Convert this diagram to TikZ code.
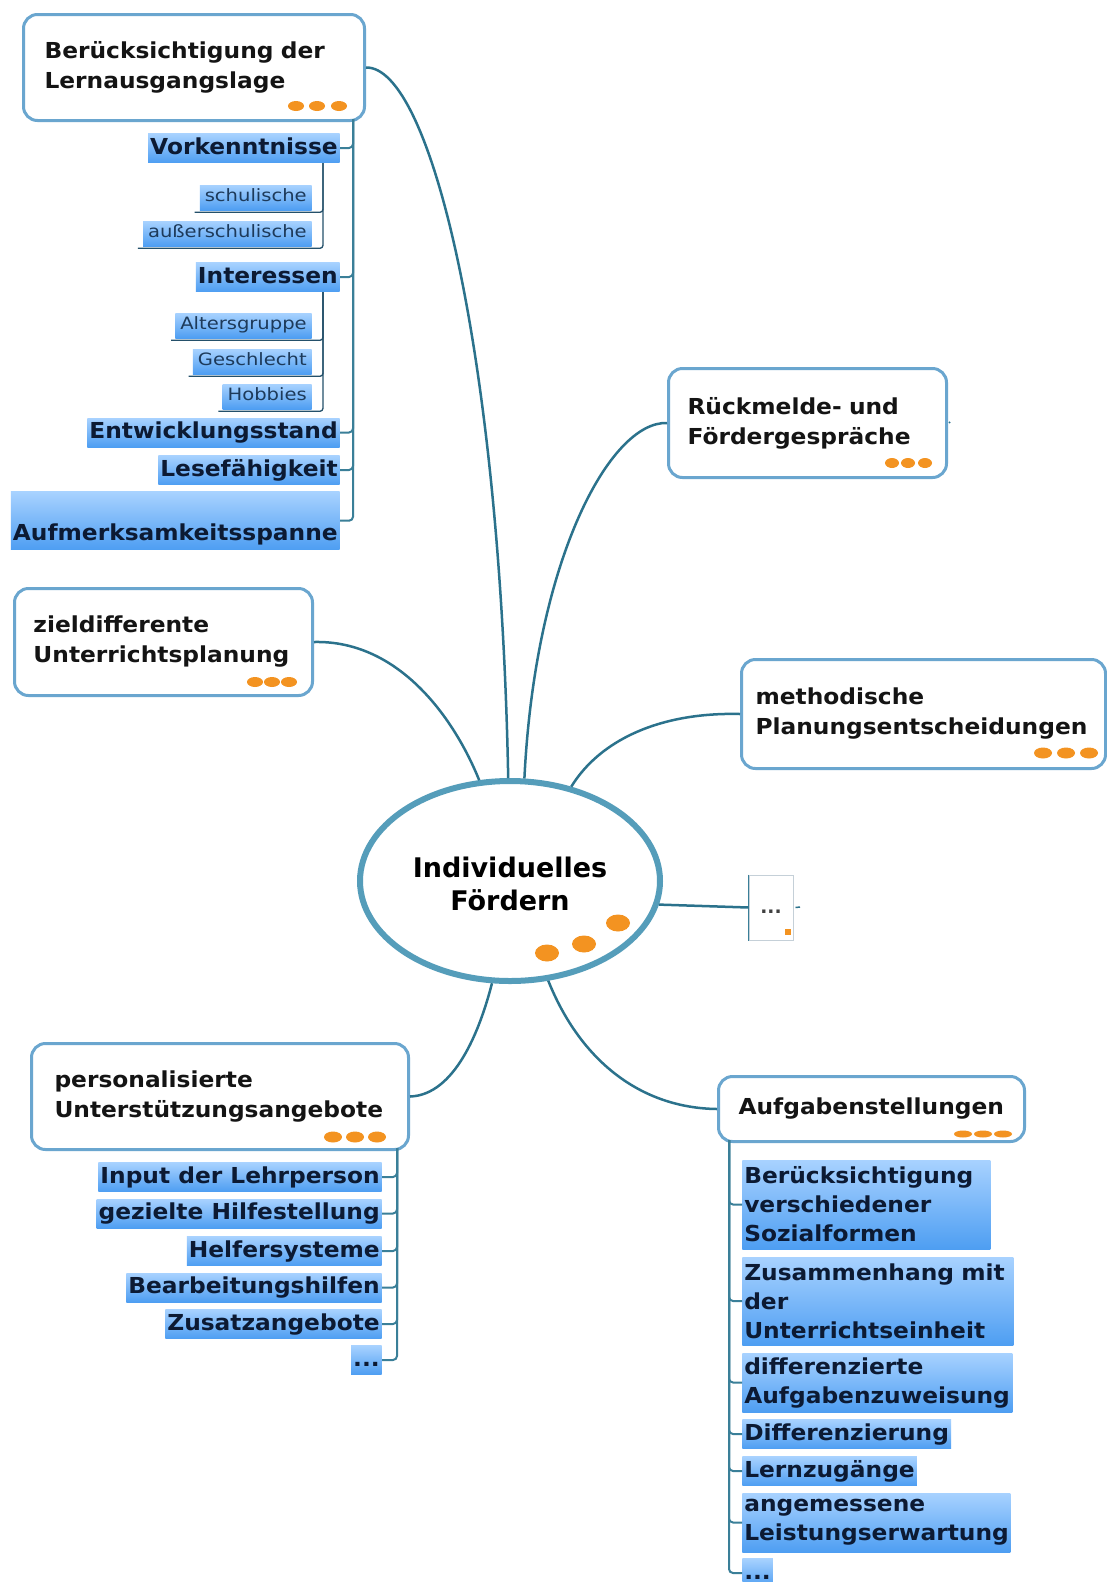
\documentclass[tikz,border=0pt]{standalone}
\usepackage{fontspec}
\setmainfont{DejaVu Sans}
\newfontfamily\wfont[FakeStretch=1.06]{DejaVu Sans}
\newfontfamily\nfont[FakeStretch=1.15]{DejaVu Sans}
\usetikzlibrary{shapes.geometric}
\newdimen\pxu
\pxu=0.75pt
\definecolor{boxblue}{HTML}{6AA6CF}
\definecolor{ellblue}{HTML}{559DBA}
\definecolor{conn}{HTML}{2B728C}
\definecolor{trunkc}{HTML}{3A7F98}
\definecolor{subc}{HTML}{24506A}
\definecolor{dotor}{HTML}{F39321}
\definecolor{hltop}{HTML}{A8D2FF}
\definecolor{hlbot}{HTML}{4E9EF2}
\definecolor{navy}{HTML}{0C1A33}
\definecolor{smalltext}{HTML}{1D3A5A}
\definecolor{titletext}{HTML}{141414}
\definecolor{ddgray}{HTML}{C5D0D8}
\tikzset{
  titlebox/.style={draw=boxblue, line width=3\pxu, rounded corners=14\pxu, fill=white, align=left, text=titletext, font=\wfont\bfseries\fontsize{16.5pt}{22.5pt}\selectfont, inner ysep=0pt, anchor=north west},
  hl/.style={top color=hltop, bottom color=hlbot, text=navy, font=\wfont\bfseries\fontsize{16.5pt}{21.75pt}\selectfont, inner xsep=2\pxu, inner ysep=3.5\pxu},
  hlone/.style={hl, text height=17\pxu, text depth=5\pxu},
  smallitem/.style={top color=hltop, bottom color=hlbot, text=smalltext, font=\nfont\fontsize{12.75pt}{15pt}\selectfont, inner xsep=5\pxu, inner ysep=4.5\pxu, text height=12\pxu, text depth=4\pxu, anchor=east},
  link/.style={draw=conn, line width=2.5\pxu},
  trunk/.style={draw=trunkc, line width=2\pxu, rounded corners=4\pxu},
  subtrunk/.style={draw=subc, line width=1.3\pxu, rounded corners=3\pxu},
}
\begin{document}
\begin{tikzpicture}[x=0.75pt,y=-0.75pt]
\fill[white] (0,0) rectangle (1107,1582);
\useasboundingbox (0,0) rectangle (1107,1582);

% central topic
\node (c) [ellipse, draw=ellblue, line width=6\pxu, minimum width=300\pxu, minimum height=200\pxu, inner sep=0pt, fill=white, text=black, font=\bfseries\fontsize{20.25pt}{24pt}\selectfont] at (510,881) {\raisebox{-13.5\pxu}[0pt][0pt]{\begin{tabular}{@{}c@{}}Individuelles\\Fördern\end{tabular}}};
\foreach \xx/\yy in {547/953, 584/944, 618/923}
  \fill[dotor] (\xx,\yy) ellipse [x radius=12\pxu, y radius=8.5\pxu];

% main topics
\node (B) [titlebox, text width=299\pxu, inner xsep=21\pxu, minimum height=106\pxu] at (22,13) {Berücksichtigung der\\Lernausgangslage};
\node (R) [titlebox, text width=240\pxu, inner xsep=19\pxu, minimum height=109\pxu] at (667,367) {Rückmelde- und\\Fördergespräche};
\node (M) [titlebox, text width=336\pxu, inner xsep=14\pxu, minimum height=109\pxu] at (740,658) {methodische\\Planungsentscheidungen};
\node (Z) [titlebox, text width=260\pxu, inner xsep=19\pxu, minimum height=107\pxu] at (13,587) {zieldifferente\\Unterrichtsplanung};
\node (P) [titlebox, text width=331\pxu, inner xsep=23\pxu, minimum height=106\pxu] at (30,1042) {personalisierte\\Unterstützungsangebote};
\node (A) [titlebox, text width=266\pxu, inner xsep=20\pxu, minimum height=65\pxu] at (717,1075) {Aufgabenstellungen};

% orange markers
\foreach \xx in {296,317,339} \fill[dotor] (\xx,106) ellipse [x radius=8\pxu, y radius=5\pxu];
\foreach \xx in {892,908,925} \fill[dotor] (\xx,463) ellipse [x radius=7\pxu, y radius=5\pxu];
\foreach \xx in {1043,1066,1089} \fill[dotor] (\xx,753) ellipse [x radius=9\pxu, y radius=5.5\pxu];
\foreach \xx in {255,272,289} \fill[dotor] (\xx,682) ellipse [x radius=8\pxu, y radius=5\pxu];
\foreach \xx in {333,355,377} \fill[dotor] (\xx,1137) ellipse [x radius=9\pxu, y radius=5.5\pxu];
\foreach \xx in {963,983,1003} \fill[dotor] (\xx,1134) ellipse [x radius=9\pxu, y radius=3.5\pxu];

% small "..." topic
\node (dd) [draw=ddgray, line width=1\pxu, minimum width=44\pxu, minimum height=65\pxu, inner sep=0pt, font=\bfseries\fontsize{14pt}{16pt}\selectfont, text=black!75] at (771,907.5) {\raisebox{-6\pxu}[0pt][0pt]{...}};
\draw[draw=trunkc, line width=1.5\pxu] (dd.north west) -- (dd.south west);
\fill[dotor] (785,929) rectangle (791,935);
\coordinate (ddtip) at (800,907);
\draw[draw=conn, line width=1.5\pxu] ([xshift=2\pxu]dd.east) -- (ddtip);
\coordinate (rtip) at (950,422);
\draw[draw=conn, line width=1.5\pxu] ([xshift=1\pxu]R.east) -- (rtip);

% connectors from the central topic
\draw[link] (B.east) .. controls (430,66) and (500,350) .. (c.91);
\draw[link] (R.west) .. controls (610,421) and (535,560) .. (c.82);
\draw[link] (M.west) .. controls (660,712) and (600,740) .. (c.57);
\draw[link] (Z.east) .. controls (400,640) and (455,720) .. (c.107.6);
\draw[link] (P.east) .. controls (455,1095) and (480,1030) .. (c.260.5);
\draw[link] (c.291) .. controls (580,1060) and (640,1108) .. (A.west);
\draw[link] (c.351) -- (dd.west);

% ---- branch: Lernausgangslage
\node (vork) [hlone, anchor=east] at (340,148) {Vorkenntnisse};
\node (inter) [hlone, anchor=east] at (340,277) {Interessen};
\node (entw) [hlone, anchor=east] at (340,432.5) {Entwicklungsstand};
\node (lese) [hlone, anchor=east] at (340,470) {Lesefähigkeit};
\node (aufm) [hl, anchor=south east, text height=45\pxu, text depth=6\pxu] at (340,550) {Aufmerksamkeitsspanne};
\node (schul) [smallitem] at (312,197.5) {schulische};
\node (ausser) [smallitem] at (312,233.5) {außerschulische};
\node (alter) [smallitem] at (312,325.5) {Altersgruppe};
\node (geschl) [smallitem] at (312,361.5) {Geschlecht};
\node (hobb) [smallitem] at (312,396.5) {Hobbies};

\coordinate (ltop) at (353,119);
\foreach \n in {vork,inter,entw,lese,aufm} \draw[trunk] (ltop) |- (\n.east);
\coordinate (vsub) at (323,163);
\foreach \n in {schul,ausser} \draw[subtrunk] (vsub) |- ([xshift=-5\pxu,yshift=-2\pxu]\n.south west);
\coordinate (isub) at (323,292);
\foreach \n in {alter,geschl,hobb} \draw[subtrunk] (isub) |- ([xshift=-4\pxu,yshift=-2\pxu]\n.south west);

% ---- branch: Unterstuetzungsangebote
\node (inp) [hlone, anchor=east] at (382,1177) {Input der Lehrperson};
\node (gez) [hlone, anchor=east] at (382,1213.5) {gezielte Hilfestellung};
\node (helf) [hlone, anchor=east] at (382,1251) {Helfersysteme};
\node (bearb) [hlone, anchor=east] at (382,1287.5) {Bearbeitungshilfen};
\node (zus) [hlone, anchor=east] at (382,1324) {Zusatzangebote};
\node (pdots) [hlone, anchor=east] at (382,1360) {...};
\coordinate (ptop) at (397,1148);
\foreach \n in {inp,gez,helf,bearb,zus,pdots} \draw[trunk] (ptop) |- (\n.east);

% ---- branch: Aufgabenstellungen
\node (soz) [hl, anchor=west, align=left, text width=244\pxu, minimum height=89\pxu] at (742,1204.5) {Berücksichtigung\\verschiedener\\Sozialformen};
\node (zhang) [hl, anchor=west, align=left, text width=267\pxu, minimum height=88\pxu] at (742,1301) {Zusammenhang mit\\der\\Unterrichtseinheit};
\node (diffa) [hl, anchor=west, align=left, text width=266\pxu, minimum height=59\pxu] at (742,1382.5) {differenzierte\\Aufgabenzuweisung};
\node (diffz) [hlone, anchor=west] at (742,1434) {Differenzierung};
\node (lern) [hlone, anchor=west] at (742,1471) {Lernzugänge};
\node (angem) [hl, anchor=west, align=left, text width=264\pxu, minimum height=59\pxu] at (742,1522.5) {angemessene\\Leistungserwartung};
\node (adots) [hlone, anchor=west] at (742,1573) {...};
\coordinate (atop) at (729,1140);
\foreach \n in {soz,zhang,diffa,diffz,lern,angem,adots} \draw[trunk] (atop) |- (\n.west);
\end{tikzpicture}
\end{document}
